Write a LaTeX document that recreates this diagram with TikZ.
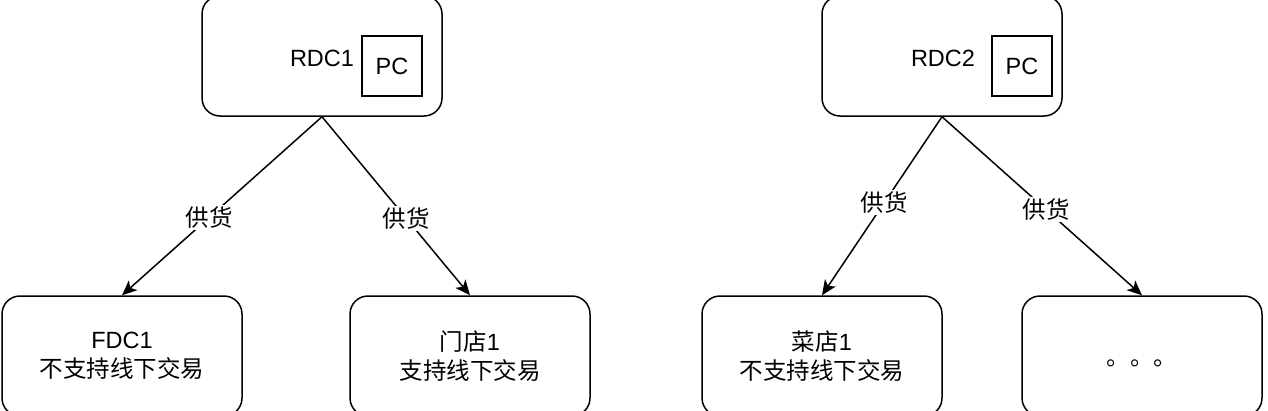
\documentclass[tikz,border=0pt]{standalone}
\usepackage{fontspec}
\setmainfont{Liberation Sans}
\newfontfamily\cjk{Noto Sans CJK SC}
\usetikzlibrary{arrows.meta}

\begin{document}
\begin{tikzpicture}[x=1pt,y=-1pt,
   every node/.style={font=\fontsize{23.5}{29}\selectfont},
   site/.style={draw,line width=1.5pt,rounded corners=18pt,minimum width=240pt,minimum height=120pt,align=center,inner sep=0pt},
   pcbox/.style={draw,line width=1.5pt,minimum width=60pt,minimum height=60pt,inner sep=0pt},
   supply/.style={line width=1.5pt,-{Stealth[length=15pt,width=13pt,inset=4pt]}},
   tag/.style={fill=white,inner sep=2pt}]
   \useasboundingbox (0,0) rectangle (1268,410);

   % upper row
   \node[site] (rdc1) at (322,56) {};
   \node (rdc1txt) at (322,58) {RDC1};
   \node[pcbox] (pc1) at (392,66) {PC};

   \node[site] (rdc2) at (942,56) {};
   \node (rdc2txt) at (943,58) {RDC2};
   \node[pcbox] (pc2) at (1022,66) {PC};

   % lower row
   \node[site] (fdc1) at (122,356) {FDC1\\{\cjk 不支持线下交易}};
   \node[site] (shop1) at (470,356) {{\cjk 门店}1\\{\cjk 支持线下交易}};
   \node[site] (veg1) at (822,356) {{\cjk 菜店}1\\{\cjk 不支持线下交易}};
   \node[site] (more) at (1142,356) {\raisebox{-9pt}[0pt][0pt]{\cjk 。。。}};

   % supply links
   \draw[supply] (rdc1.south) -- node[tag,pos=0.565] (s1) {\cjk 供货} (fdc1.north);
   \draw[supply] (rdc1.south) -- node[tag,pos=0.57] (s2) {\cjk 供货} (shop1.north);
   \draw[supply] (rdc2.south) -- node[tag,pos=0.48] (s3) {\cjk 供货} (veg1.north);
   \draw[supply] (rdc2.south) -- node[tag,pos=0.52] (s4) {\cjk 供货} (more.north);
\end{tikzpicture}
\end{document}
